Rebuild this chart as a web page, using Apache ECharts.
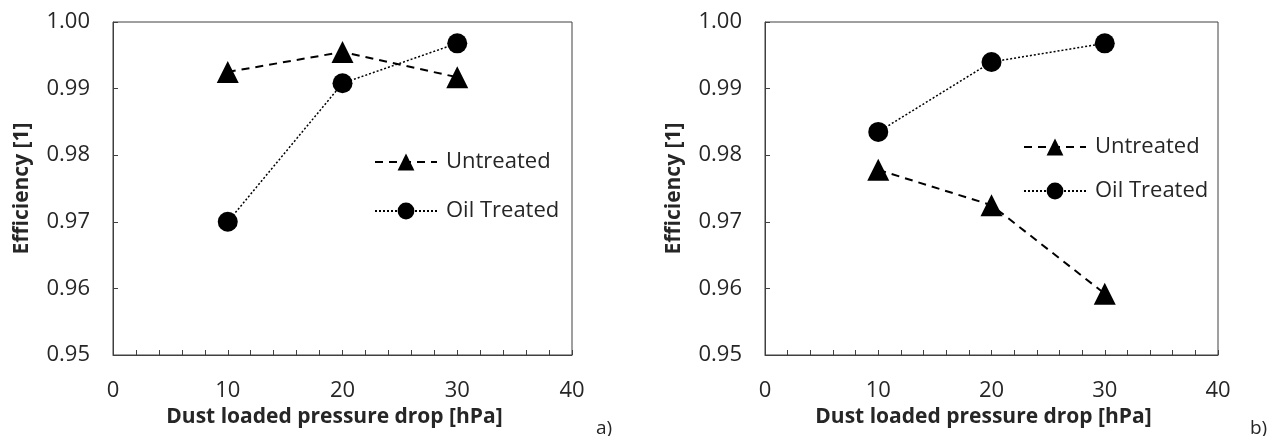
<!DOCTYPE html>
<html>
<head>
<meta charset="utf-8">
<script src="https://cdn.jsdelivr.net/npm/echarts@6/dist/echarts.min.js"></script>
<style>
  html, body { margin: 0; padding: 0; background: #fff; }
  #chart { width: 1268px; height: 436px; }
</style>
</head>
<body>
<div id="chart"></div>
<script>
// Data
const pressureDrop = [10, 20, 30];
const untreatedA = [0.9925, 0.9955, 0.9917];
const oilTreatedA = [0.9700, 0.9908, 0.9968];
const untreatedB = [0.9778, 0.9725, 0.9592];
const oilTreatedB = [0.9835, 0.9940, 0.9968];
const seriesNames = ['Untreated', 'Oil Treated'];
const panelLabels = ['a)', 'b)'];

const FONT = 'Open Sans';
const INK = '#000';
const TEXT = '#262626';
const AXIS = '#404040';

function pairs(xs, ys) {
    return xs.map((x, i) => [x, ys[i]]);
}

function xAxisFor(idx) {
    return {
        gridIndex: idx,
        type: 'value',
        min: 0, max: 40, interval: 10,
        name: 'Dust loaded pressure drop [hPa]',
        nameLocation: 'middle',
        nameGap: 50,
        nameTextStyle: {
            fontFamily: FONT, fontSize: 21, fontWeight: 'bold', color: TEXT,
            padding: [0, 16, 0, 0]
        },
        axisLine: { show: true, lineStyle: { color: AXIS, width: 1 } },
        axisTick: { show: true, inside: true, length: 5, lineStyle: { color: AXIS } },
        minorTick: { show: true, splitNumber: 5, length: 5, lineStyle: { color: AXIS } },
        axisLabel: { fontFamily: FONT, fontSize: 22, color: TEXT, margin: 25 },
        splitLine: { show: false }
    };
}

function yAxisFor(idx) {
    return {
        gridIndex: idx,
        type: 'value',
        min: 0.95, max: 1.00, interval: 0.01,
        name: 'Efficiency [1]',
        nameLocation: 'middle',
        nameGap: 80,
        nameTextStyle: { fontFamily: FONT, fontSize: 21, fontWeight: 'bold', color: TEXT },
        axisLine: { show: true, lineStyle: { color: AXIS, width: 1 } },
        axisTick: { show: true, inside: true, length: 5, lineStyle: { color: AXIS } },
        axisLabel: {
            fontFamily: FONT, fontSize: 22, color: TEXT, margin: 23,
            formatter: v => v.toFixed(2)
        },
        splitLine: { show: false }
    };
}

function untreatedSeries(idx, ys) {
    return {
        name: seriesNames[0],
        type: 'line',
        xAxisIndex: idx, yAxisIndex: idx,
        data: pairs(pressureDrop, ys),
        symbol: 'triangle',
        symbolSize: 22,
        itemStyle: { color: INK },
        lineStyle: { color: INK, width: 2, type: [8, 6] },
        z: 3
    };
}

function oilSeries(idx, ys) {
    return {
        name: seriesNames[1],
        type: 'line',
        xAxisIndex: idx, yAxisIndex: idx,
        data: pairs(pressureDrop, ys),
        symbol: 'circle',
        symbolSize: 20,
        itemStyle: { color: INK },
        lineStyle: { color: INK, width: 1.5, type: [2, 2] },
        z: 4
    };
}

function legendFor(left, top, gap) {
    return {
        left: left, top: top,
        orient: 'vertical',
        data: seriesNames,
        itemWidth: 62, itemHeight: 21,
        itemGap: gap,
        selectedMode: false,
        textStyle: { fontFamily: FONT, fontSize: 22, color: TEXT, padding: [0, 0, 0, 4] }
    };
}

const chart = echarts.init(document.getElementById('chart'));

chart.setOption({
    animation: false,
    backgroundColor: '#fff',
    grid: [
        { left: 113, top: 22, width: 459, height: 333, show: true, borderColor: AXIS, borderWidth: 1 },
        { left: 765, top: 22, width: 453, height: 333, show: true, borderColor: AXIS, borderWidth: 1 }
    ],
    xAxis: [xAxisFor(0), xAxisFor(1)],
    yAxis: [yAxisFor(0), yAxisFor(1)],
    legend: [
        legendFor(369, 146, 27),
        legendFor(1018, 131, 22)
    ],
    series: [
        untreatedSeries(0, untreatedA),
        oilSeries(0, oilTreatedA),
        untreatedSeries(1, untreatedB),
        oilSeries(1, oilTreatedB)
    ],
    graphic: [
        { type: 'text', left: 596, top: 419, style: { text: panelLabels[0], font: '19px "Open Sans"', fill: TEXT } },
        { type: 'text', left: 1250, top: 419, style: { text: panelLabels[1], font: '19px "Open Sans"', fill: TEXT } }
    ]
});
</script>
</body>
</html>
